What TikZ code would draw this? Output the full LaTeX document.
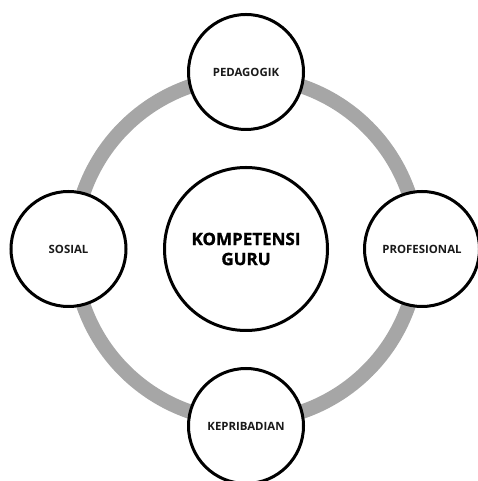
\documentclass[tikz,border=0pt]{standalone}
\usepackage{fontspec}
\setmainfont{Open Sans}
\definecolor{ringgray}{HTML}{A6A6A6}
\definecolor{txt}{HTML}{1A1A1A}
\begin{document}
\begin{tikzpicture}[x=1pt,y=1pt,
  smallc/.style={circle,draw=black,line width=3pt,fill=white,minimum size=115pt,inner sep=0pt,
    font=\fontsize{11.4}{13}\selectfont\bfseries,text=txt},
  bigc/.style={circle,draw=black,line width=3pt,fill=white,minimum size=163pt,inner sep=0pt,
    font=\fontsize{17}{20}\selectfont\bfseries\addfontfeature{FakeBold=1.2},text=black,align=center}]
\useasboundingbox (0,0) rectangle (478,481);
\coordinate (o) at (246,232);
\draw[ringgray,line width=14.5pt] (o) circle[radius=172];
\node[bigc] (k) at (o) {KOMPETENSI\\GURU};
\node[smallc] (p) at (246,409) {PEDAGOGIK};
\node[smallc] (s) at (68.5,232) {SOSIAL};
\node[smallc] (f) at (422,232) {PROFESIONAL};
\node[smallc] (b) at (246,55) {KEPRIBADIAN};
\end{tikzpicture}
\end{document}
